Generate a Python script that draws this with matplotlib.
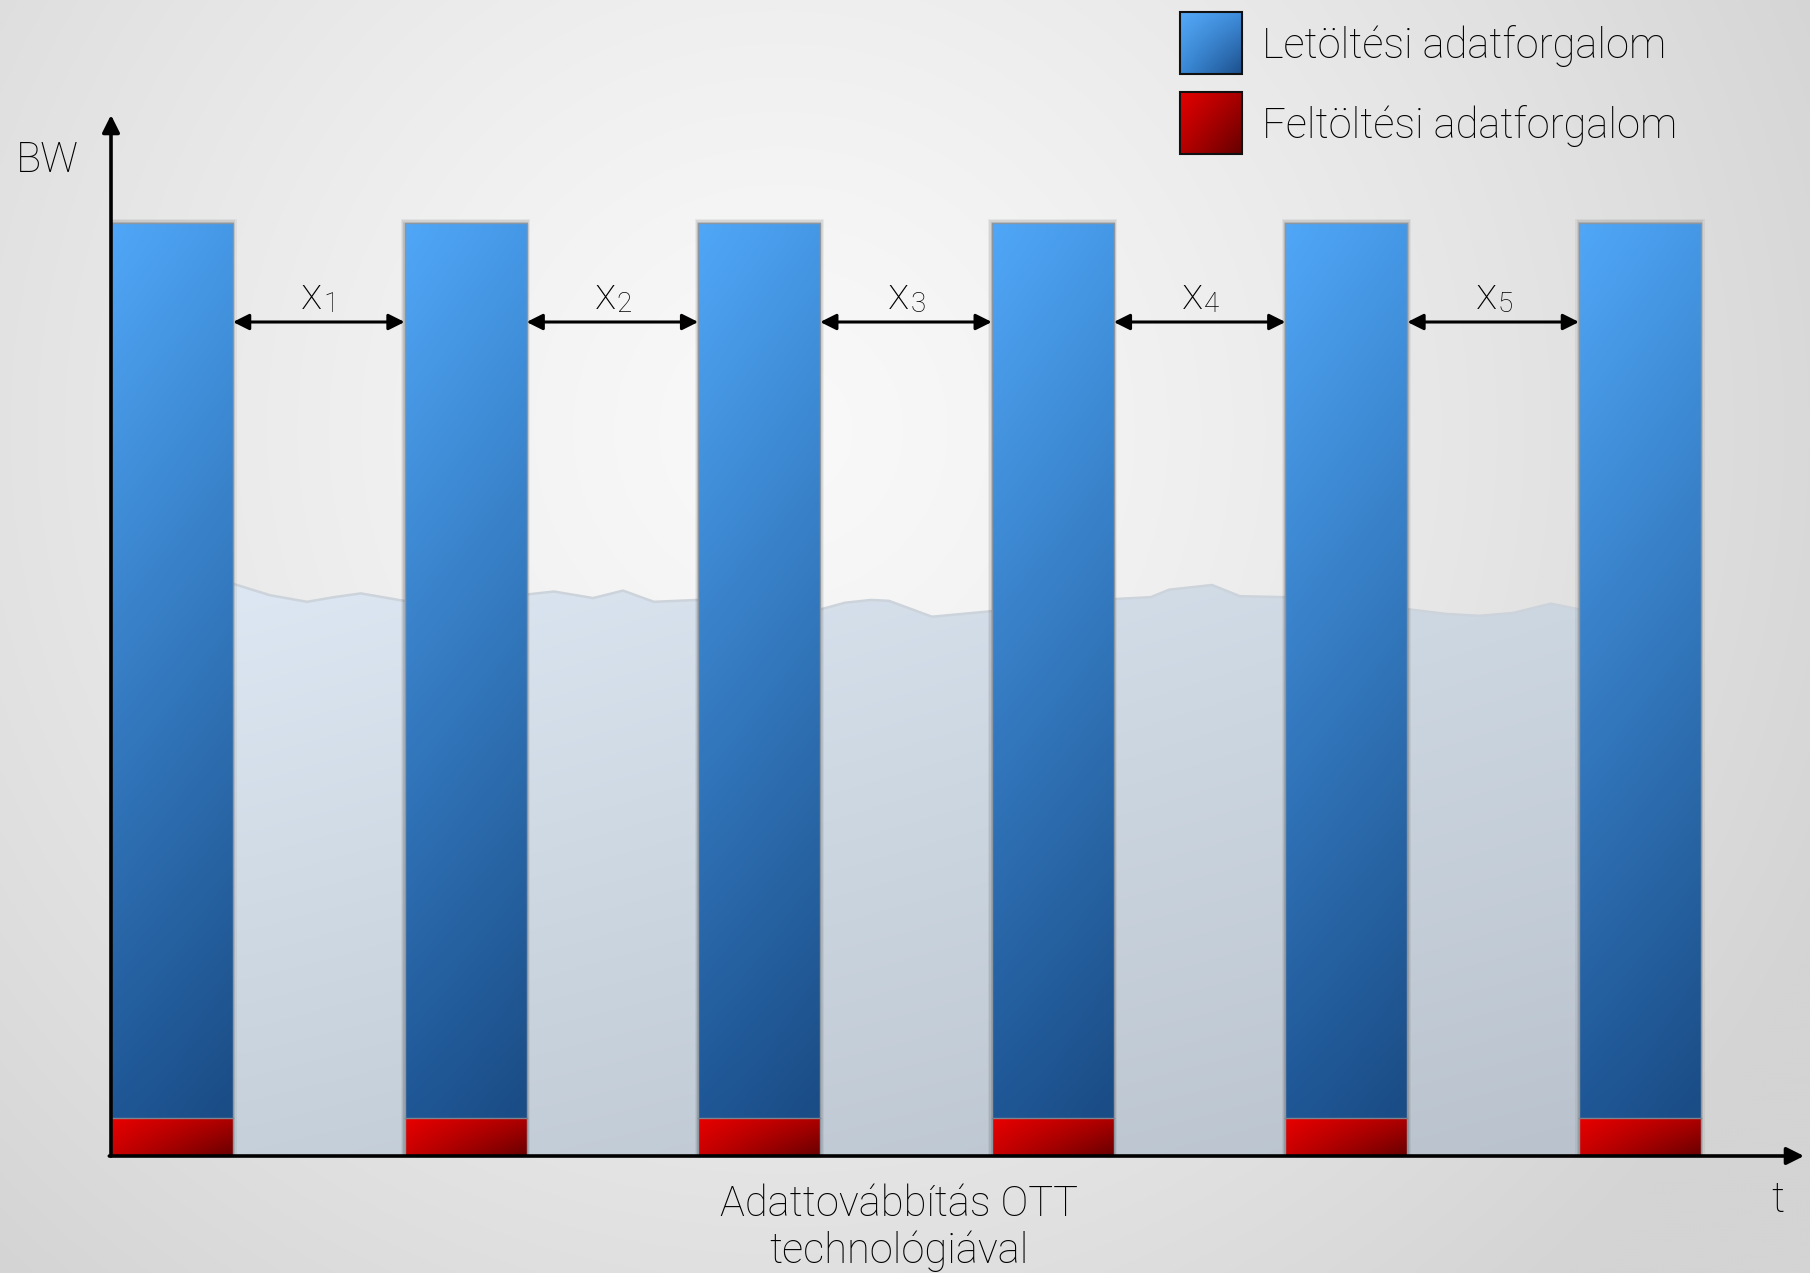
import numpy as np
import matplotlib
matplotlib.use("Agg")
import matplotlib.pyplot as plt
from matplotlib.patches import Rectangle, Polygon
from matplotlib.colors import to_rgb

# ---------------- data ----------------
burst_start = [0, 1, 2, 3, 4, 5]          # start time of each OTT burst
burst_len = 0.4155                        # duration of a burst
download_bw = [100, 100, 100, 100, 100, 100]
upload_bw = [4.1, 4.1, 4.1, 4.1, 4.1, 4.1]
gap_labels = ["1", "2", "3", "4", "5"]
wave_t = [0.419, 0.542, 0.668, 0.760, 0.851, 0.998,
          1.420, 1.509, 1.642, 1.744, 1.849, 1.999,
          2.418, 2.500, 2.589, 2.650, 2.796, 3.001,
          3.420, 3.542, 3.604, 3.750, 3.845, 3.999,
          4.418, 4.547, 4.659, 4.775, 4.904, 4.999]
wave_bw = [61.3, 60.1, 59.4, 59.9, 60.3, 59.5,
           60.2, 60.5, 59.8, 60.6, 59.4, 59.6,
           58.6, 59.3, 59.6, 59.5, 57.8, 58.4,
           59.7, 59.9, 60.7, 61.2, 60.0, 59.9,
           58.6, 58.1, 57.9, 58.2, 59.2, 58.6]
series_names = ["Letöltési adatforgalom", "Feltöltési adatforgalom"]
y_name = "BW"
x_name = "t"
caption = "Adattovábbítás OTT\ntechnológiával"

# ---------------- style ----------------
FONT = ["Roboto", "DejaVu Sans"]
plt.rcParams["font.family"] = FONT
W, H = 1810, 1273
fig = plt.figure(figsize=(W / 100, H / 100), dpi=100)

# background radial gradient
bg = fig.add_axes([0, 0, 1, 1], zorder=0)
yy, xx = np.mgrid[0:H:3, 0:W:3]
r = np.sqrt((xx - 780.0) ** 2 + (yy - 430.0) ** 2) / 1150.0
r = np.clip(r, 0, 1) ** 1.3
c0, c1 = 249 / 255, 212 / 255
val = c0 + (c1 - c0) * r
bg.imshow(np.dstack([val, val, val]), extent=(0, W, H, 0), aspect="auto")
bg.set_xlim(0, W); bg.set_ylim(H, 0); bg.axis("off")

# main axes
x_max = (1804 - 111) / 293.6
y_max = (1156 - 115) / 9.33
ax = fig.add_axes([111 / W, (H - 1156) / H, (1804 - 111) / W, (1156 - 115) / H], zorder=1)
ax.set_xlim(0, x_max); ax.set_ylim(0, y_max)
ax.patch.set_alpha(0)
ax.axis("off")


def grad4(tl, tr, bl, br, n=64):
    tl, tr, bl, br = [np.array(to_rgb(c)) for c in (tl, tr, bl, br)]
    v = np.linspace(0, 1, n)[:, None, None]
    h = np.linspace(0, 1, n)[None, :, None]
    top = tl * (1 - h) + tr * h
    bot = bl * (1 - h) + br * h
    return top * (1 - v) + bot * v


# wave area (background traffic)
poly_pts = [(wave_t[0], 0)] + list(zip(wave_t, wave_bw)) + [(wave_t[-1], 0)]
wpoly = Polygon(poly_pts, closed=True, facecolor="none", edgecolor="none")
ax.add_patch(wpoly)
wimg = ax.imshow(grad4("#dce7f3", "#cdd7e2", "#c6d0da", "#bac3cd"),
                 extent=(wave_t[0], wave_t[-1], 0, max(wave_bw)),
                 aspect="auto", zorder=2, interpolation="bicubic")
wimg.set_clip_path(wpoly)
ax.plot(wave_t, wave_bw, color="#cdd3da", lw=1.8, zorder=2.1)

# bars
blue = grad4("#50a7f7", "#4598e6", "#1f5796", "#1a4c85")
red = grad4("#e80000", "#b00000", "#c80000", "#680000")
for t0, d, u in zip(burst_start, download_bw, upload_bw):
    # soft shadow
    for k, a in zip([0.012, 0.008, 0.004], [0.05, 0.07, 0.09]):
        ax.add_patch(Rectangle((t0 - k, 0), burst_len + 2 * k, d + k * 40,
                               facecolor="#000000", alpha=a, edgecolor="none", zorder=2.5))
    rb = Rectangle((t0, u), burst_len, d - u, facecolor="none", edgecolor="none")
    ax.add_patch(rb)
    im = ax.imshow(blue, extent=(t0, t0 + burst_len, u, d), aspect="auto",
                   zorder=3, interpolation="bicubic")
    im.set_clip_path(rb)
    rr = Rectangle((t0, 0), burst_len, u, facecolor="none", edgecolor="none")
    ax.add_patch(rr)
    im2 = ax.imshow(red, extent=(t0, t0 + burst_len, 0, u), aspect="auto",
                    zorder=3, interpolation="bicubic")
    im2.set_clip_path(rr)
    ax.add_patch(Rectangle((t0, 0), burst_len, d, facecolor="none",
                           edgecolor="#8c96a0", lw=1.0, zorder=3.2))
    ax.plot([t0, t0 + burst_len], [u, u], color="#7d8690", lw=1.0, zorder=3.2)

# gap arrows and labels
y_arrow = (1156 - 322) / 9.33
y_lab = (1156 - 309) / 9.33
for i, lab in enumerate(gap_labels):
    a = burst_start[i] + burst_len
    b = burst_start[i + 1]
    ax.annotate("", xy=(b, y_arrow), xytext=(a, y_arrow),
                arrowprops=dict(arrowstyle="<|-|>", lw=2.2, color="black",
                                mutation_scale=24, shrinkA=0, shrinkB=0), zorder=4)
    mid = (a + b) / 2
    ax.annotate("x", xy=(mid, y_lab), xytext=(2.5, 0), textcoords="offset points",
                ha="right", va="baseline", fontsize=32, fontweight="light",
                color="black", zorder=4)
    ax.annotate(lab, xy=(mid, y_lab), xytext=(3.0, -2.0), textcoords="offset points",
                ha="left", va="baseline", fontsize=20, fontweight="light",
                color="black", zorder=4)

# axis arrows
ax.annotate("", xy=(0, 1), xytext=(0, 0), xycoords="axes fraction",
            arrowprops=dict(arrowstyle="-|>", lw=2.6, color="black",
                            mutation_scale=26, shrinkA=0, shrinkB=0), zorder=5)
ax.annotate("", xy=(1, 0), xytext=(-0.001, 0), xycoords="axes fraction",
            arrowprops=dict(arrowstyle="-|>", lw=2.6, color="black",
                            mutation_scale=26, shrinkA=0, shrinkB=0), zorder=5)

# texts
tk = dict(fontsize=30, color="black", fontweight="light")
fig.text(16 / W, 1 - 161 / H, y_name, ha="left", va="center", **tk)
fig.text(1778 / W, 1 - 1200 / H, x_name, ha="center", va="center", **tk)
fig.text(899 / W, 1 - 1228 / H, caption, ha="center", va="center",
         linespacing=1.18, **tk)

# legend (overlay in pixel space)
lg = fig.add_axes([0, 0, 1, 1], zorder=6)
lg.set_xlim(0, W); lg.set_ylim(H, 0); lg.axis("off"); lg.patch.set_alpha(0)
for (y0, g, name) in [(12, grad4("#55a9f7", "#3f8ddc", "#3a8ad8", "#1c4f8b"), series_names[0]),
                      (92, grad4("#e40000", "#a80000", "#b40000", "#640000"), series_names[1])]:
    rect = Rectangle((1180, y0), 62, 62, facecolor="none", edgecolor="#111111", lw=1.5, zorder=7)
    lg.imshow(g, extent=(1180, 1242, y0 + 62, y0), aspect="auto", zorder=6.5,
              interpolation="bicubic")
    lg.add_patch(rect)
    lg.text(1262, y0 + 34, name, ha="left", va="center", **tk)

fig.savefig("out.png", dpi=100)
